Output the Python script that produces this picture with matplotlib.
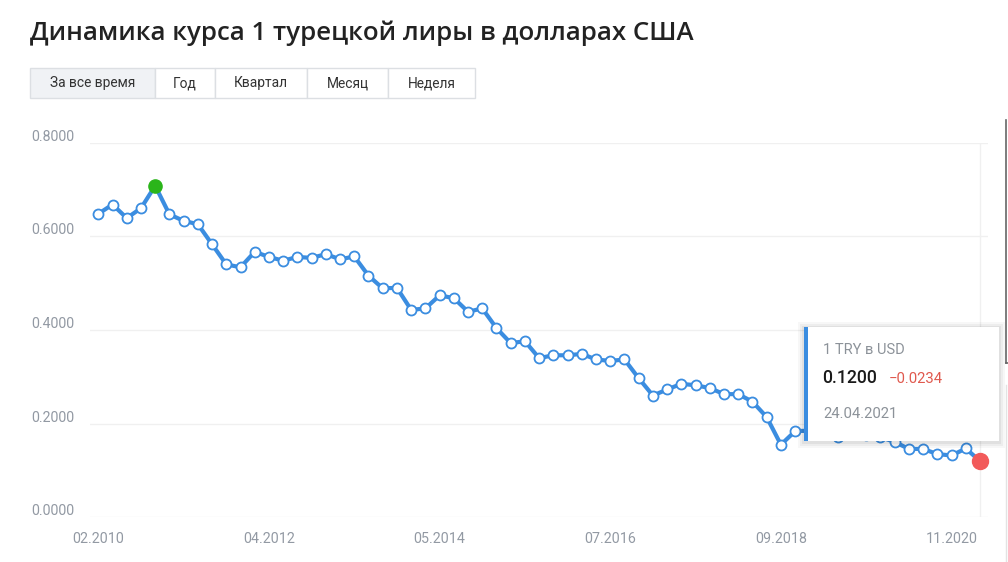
import matplotlib
matplotlib.use("Agg")
import matplotlib.pyplot as plt
from matplotlib.patches import Rectangle
import numpy as np

# ---- data ----
rates = [0.648, 0.668, 0.639, 0.660, 0.708, 0.647, 0.633, 0.626, 0.583, 0.540,
         0.534, 0.567, 0.556, 0.548, 0.556, 0.554, 0.562, 0.551, 0.557, 0.516,
         0.489, 0.490, 0.443, 0.446, 0.474, 0.468, 0.439, 0.446, 0.404, 0.372,
         0.376, 0.340, 0.346, 0.346, 0.349, 0.337, 0.334, 0.337, 0.297, 0.260,
         0.273, 0.285, 0.282, 0.276, 0.263, 0.263, 0.247, 0.214, 0.155, 0.184,
         0.185, 0.188, 0.172, 0.178, 0.175, 0.171, 0.161, 0.146, 0.146, 0.135,
         0.132, 0.147, 0.120]
x_tick_labels = ["02.2010", "04.2012", "05.2014", "07.2016", "09.2018", "11.2020"]
x_tick_index = [0, 12, 24, 36, 48, 60]
y_ticks = [0.0, 0.2, 0.4, 0.6, 0.8]
title = "Динамика курса 1 турецкой лиры в долларах США"
buttons = ["За все время", "Год", "Квартал", "Месяц", "Неделя"]
tip_title = "1 TRY в USD"
tip_value = "0.1200"
tip_change = "\u22120.0234"
tip_date = "24.04.2021"

W, H = 1008, 562
fig = plt.figure(figsize=(W / 100, H / 100), dpi=100)
fig.patch.set_facecolor("white")

def fx(x):
    return x / W

def fy(y):
    return 1 - y / H

BLUE = "#3b8de0"
GRID = "#f0f0f0"
LABEL = "#9299a3"

# axes placed in pixel coordinates
ax_l, ax_r, ax_t, ax_b = 90, 988, 142.7, 517.3
ax = fig.add_axes([fx(ax_l), fy(ax_b), (ax_r - ax_l) / W, (ax_b - ax_t) / H])
x = np.arange(len(rates))
px_per_idx = (980 - 98.3) / (len(rates) - 1)
ax.set_xlim(0 - (98.3 - ax_l) / px_per_idx, (len(rates) - 1) + (ax_r - 980) / px_per_idx)
ax.set_ylim(0, 0.8)
for s in ax.spines.values():
    s.set_visible(False)
ax.set_yticks(y_ticks)
ax.yaxis.grid(True, color=GRID, lw=1.0)
ax.set_axisbelow(True)
ax.tick_params(length=0, labelleft=False, labelbottom=False)
ax.set_xticks([])
ax.axvline(len(rates) - 1, color=GRID, lw=1.0, zorder=0)

ax.plot(x, rates, color=BLUE, lw=3.0, zorder=2, solid_joinstyle="round",
        solid_capstyle="round", clip_on=False)
ax.plot(x[:-1], rates[:-1], ls="none", marker="o", ms=7.2, mfc="white",
        mec=BLUE, mew=1.3, zorder=3, clip_on=False)
imax = int(np.argmax(rates))
ax.plot([x[imax]], [rates[imax]], ls="none", marker="o", ms=9.5, mfc="#2bb51a",
        mec="#2bb51a", zorder=4, clip_on=False)
ax.plot([x[-1]], [rates[-1]], ls="none", marker="o", ms=11.5, mfc="#f25a5a",
        mec="#f25a5a", zorder=4, clip_on=False)

# y labels (sitting just above gridlines)
for v in y_ticks:
    yy = ax.transData.transform((0, v))[1]
    fig.text(fx(74), (yy + 6) / H, f"{v:.4f}", ha="right", va="center",
             fontsize=10.2, color=LABEL, family="Roboto")
for i, lab in zip(x_tick_index, x_tick_labels):
    xx = ax.transData.transform((i, 0))[0]
    fig.text(xx / W, fy(539), lab, ha="center", va="center", fontsize=10.3,
             color=LABEL, family="Roboto")

# title
fig.text(fx(30), fy(33), title, ha="left", va="center", fontsize=18.6,
         color="#222222", family="Open Sans", weight="semibold")

# buttons
edges = [30, 155, 215, 307, 388, 475]
for k, lab in enumerate(buttons):
    x0, x1 = edges[k], edges[k + 1]
    fc = "#f0f2f5" if k == 0 else "white"
    fig.add_artist(Rectangle((fx(x0), fy(98.3)), (x1 - x0) / W, 30 / H,
                             transform=fig.transFigure, facecolor=fc,
                             edgecolor="#dcdfe3", lw=1.0))
    fig.text(fx((x0 + x1) / 2), fy(83), lab, ha="center", va="center",
             fontsize=9.9, color="#333333", family="Roboto")

# tooltip
tx0, tx1, ty0, ty1 = 804, 999, 327, 440.5
for d, a in [(6, 0.03), (4, 0.04), (2, 0.05)]:
    fig.add_artist(Rectangle((fx(tx0 - d), fy(ty1 + d + 1)), (tx1 - tx0 + 2 * d) / W,
                             (ty1 - ty0 + 2 * d) / H, transform=fig.transFigure,
                             facecolor="black", alpha=a, lw=0, zorder=5))
fig.add_artist(Rectangle((fx(tx0), fy(ty1)), (tx1 - tx0) / W, (ty1 - ty0) / H,
                         transform=fig.transFigure, facecolor="white", lw=0, zorder=6))
fig.add_artist(Rectangle((fx(tx0), fy(ty1)), 4 / W, (ty1 - ty0) / H,
                         transform=fig.transFigure, facecolor=BLUE, lw=0, zorder=7))
fig.text(fx(823), fy(350), tip_title, ha="left", va="center", fontsize=10.5,
         color="#8c9299", family="Roboto", zorder=8)
fig.text(fx(822), fy(378), tip_value, ha="left", va="center", fontsize=12.7,
         color="#1a1a1a", family="Roboto", weight="medium", zorder=8)
fig.text(fx(889), fy(379), tip_change, ha="left", va="center", fontsize=10.7,
         color="#e0594e", family="Roboto", zorder=8)
fig.text(fx(823), fy(414), tip_date, ha="left", va="center", fontsize=10.7,
         color="#8c9299", family="Roboto", zorder=8)

# right-edge panel fragments
fig.add_artist(plt.Line2D([fx(1005.5), fx(1005.5)], [fy(120), fy(363)],
                          transform=fig.transFigure, color="#666666", lw=1.2))
fig.add_artist(plt.Line2D([fx(1005.5), fx(1008)], [fy(363), fy(363)],
                          transform=fig.transFigure, color="#666666", lw=1.2))
fig.add_artist(plt.Line2D([fx(1005.5), fx(1005.5)], [fy(385), fy(562)],
                          transform=fig.transFigure, color="#e3e3e3", lw=1.0))

fig.savefig("out.png", dpi=100, facecolor="white")
